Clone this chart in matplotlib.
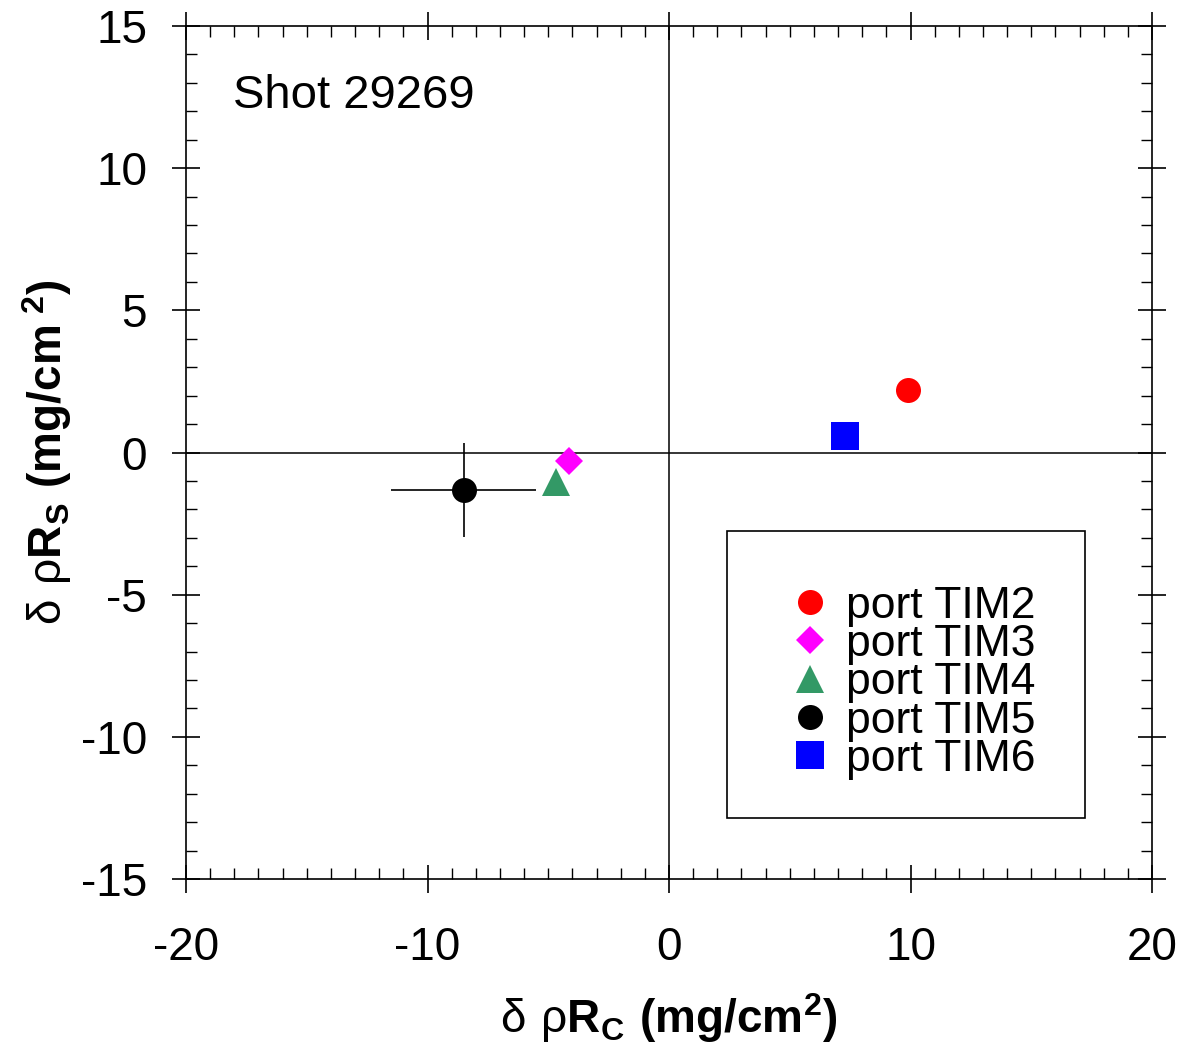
import matplotlib
matplotlib.use("Agg")
import matplotlib.pyplot as plt
from matplotlib.patches import Rectangle
from matplotlib.ticker import MultipleLocator

plt.rcParams['font.family'] = 'Liberation Sans'
plt.rcParams['mathtext.fontset'] = 'custom'
plt.rcParams['mathtext.rm'] = 'Liberation Sans'
plt.rcParams['mathtext.bf'] = 'Liberation Sans:bold'
plt.rcParams['axes.unicode_minus'] = False

# areal density offsets per diagnostic port (mg/cm^2)
ports = ['port TIM2', 'port TIM3', 'port TIM4', 'port TIM5', 'port TIM6']
rho_rc = [9.9, -4.15, -4.7, -8.5, 7.3]
rho_rs = [2.2, -0.3, -1.05, -1.33, 0.57]
colors = ['#ff0000', '#ff00ff', '#339966', '#000000', '#0000ff']
markers = ['o', 'D', '^', 'o', 's']
sizes = [18, 14, 19.5, 18, 20]

# only TIM5 has error bars
tim5_xerr = 3.0
tim5_yerr = 1.65

shot_label = 'Shot 29269'

fig = plt.figure(figsize=(11.79, 10.44), dpi=100)
ax = fig.add_axes([0.1578, 0.158, 0.8193, 0.8171])

ax.axhline(0, color='black', lw=1.1, zorder=1)
ax.axvline(0, color='black', lw=1.1, zorder=1)

i5 = ports.index('port TIM5')
ax.errorbar(rho_rc[i5], rho_rs[i5], xerr=tim5_xerr, yerr=tim5_yerr,
            fmt='none', ecolor='black', elinewidth=1.2, capsize=0, zorder=2)

for x, y, c, m, s, lab in zip(rho_rc, rho_rs, colors, markers, sizes, ports):
    ax.plot(x, y, ls='none', marker=m, ms=s, color=c, mec=c, mew=0,
            label=lab, zorder=3)

ax.set_xlim(-20, 20)
ax.set_ylim(-15, 15)
ax.xaxis.set_major_locator(MultipleLocator(10))
ax.xaxis.set_minor_locator(MultipleLocator(1))
ax.yaxis.set_major_locator(MultipleLocator(5))
ax.yaxis.set_minor_locator(MultipleLocator(1))
ax.tick_params(which='major', direction='inout', length=20, width=1.2,
               top=True, right=True, labelsize=33)
ax.tick_params(axis='x', which='major', pad=24)
ax.tick_params(axis='y', which='major', pad=18)
ax.tick_params(which='minor', direction='in', length=8, width=1,
               top=True, right=True)
for sp in ax.spines.values():
    sp.set_linewidth(1.2)

ax.set_xlabel(r'$\mathrm{\delta\ \rho}\mathbf{R_C\ (mg/cm^2)}$', fontsize=33, labelpad=15)
ax.set_ylabel(r'$\mathrm{\delta\ \rho}\mathbf{R_S\ (mg/cm^{\ 2})}$', fontsize=33, labelpad=5)

ax.text(0.0487, 0.904, shot_label, transform=ax.transAxes, fontsize=34,
        va='baseline', ha='left')

# legend frame drawn separately so the entries can sit low inside it
ax.add_patch(Rectangle((0.560, 0.0715), 0.3706, 0.3365, transform=ax.transAxes,
                       fill=False, ec='black', lw=1.2, zorder=4))
ax.legend(loc='center', bbox_to_anchor=(0.751, 0.230), frameon=False,
          fontsize=32, handlelength=1.0, handletextpad=0.3,
          labelspacing=-0.06, borderpad=0, numpoints=1)

fig.savefig('out.png', dpi=100)
